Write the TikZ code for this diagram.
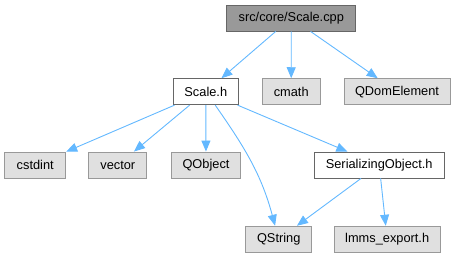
\documentclass[tikz,border=0pt]{standalone}
\usepackage{fontspec}
\setmainfont{Liberation Sans}
\usepackage{tikz}
\usetikzlibrary{arrows.meta}

\definecolor{edgeblue}{HTML}{63B8FF}
\definecolor{leafgray}{HTML}{E0E0E0}
\definecolor{leafline}{HTML}{999999}
\definecolor{rootgray}{HTML}{999999}
\definecolor{rootline}{HTML}{666666}

\begin{document}
\begin{tikzpicture}[x=1pt,y=-1pt,
    box/.style={draw,rectangle,inner sep=0pt,minimum height=26pt,line width=0.9pt,
        font=\fontsize{12.8}{15}\selectfont},
    leaf/.style={box,draw=leafline,fill=leafgray},
    hdr/.style={box,draw=rootline,fill=white},
    inc/.style={draw=edgeblue,line width=0.9pt,-{Triangle[length=11pt,width=9pt]}}]
    \useasboundingbox (0,0) rectangle (455,257);
    \node[box,draw=rootline,fill=rootgray,minimum width=129pt] (cpp) at (291.3,18) {src/core/Scale.cpp};
    \node[hdr,minimum width=65pt] (scaleh) at (205.8,91.7) {Scale.h};
    \node[hdr,minimum width=130pt] (serial) at (379.2,165) {SerializingObject.h};
    \foreach \n/\x/\y/\w/\t in {cmath/291.2/91.7/58/cmath, qdom/397/91.7/106/QDomElement,
            cstdint/35.2/165/61/cstdint, vector/117.8/165/58/vector, qobject/206/165/69/QObject,
            qstring/278.7/239.2/66/QString, lmms/387.2/239.2/106/lmms\_export.h}
        \node[leaf,minimum width=\w pt] (\n) at (\x,\y) {\t};
    % includes of the source file
    \draw[inc] (cpp) -- (scaleh);
    \draw[inc] (cpp) -- (cmath);
    \draw[inc] (cpp) -- (qdom);
    % includes of Scale.h
    \draw[inc] (scaleh) -- (cstdint);
    \draw[inc] (scaleh) -- (vector);
    \draw[inc] (scaleh) -- (qobject);
    \draw[inc] (scaleh) to[out=-55,in=105] (qstring);
    \draw[inc] (scaleh) -- (serial);
    % includes of SerializingObject.h
    \draw[inc] (serial) -- (qstring);
    \draw[inc] (serial) -- (lmms);
\end{tikzpicture}
\end{document}
